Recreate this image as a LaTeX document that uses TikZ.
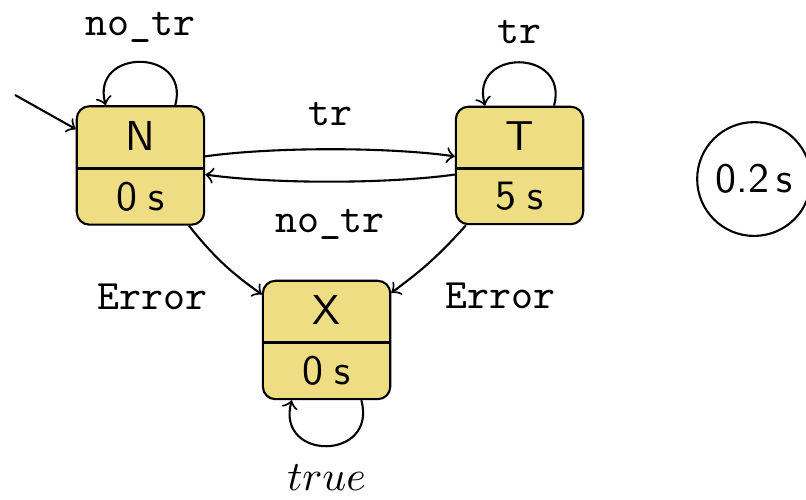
\documentclass[tikz,border=0pt]{standalone}
\usetikzlibrary{shapes.multipart}

\definecolor{stategold}{RGB}{238,221,130}
\newcommand{\upstrut}{\rule[-1pt]{0pt}{8.3pt}}

\tikzset{
  state/.style={rectangle split, rectangle split parts=2, draw, line width=0.5pt,
    rounded corners=3pt, fill=stategold, minimum width=1.07cm, inner ysep=3pt,
    font=\sffamily},
  trans/.style={->, line width=0.5pt},
  lbl/.style={font=\ttfamily},
  clock/.style={circle, draw, line width=0.5pt, minimum size=27.2pt, inner sep=0pt,
    font=\sffamily}
}

\begin{document}
\begin{tikzpicture}
   \useasboundingbox (0,0) rectangle (6.77,4.2);

   \node[state] (N) at (1.18,2.81) {\upstrut N\nodepart{two}0\;s};
   \node[state] (T) at (4.364,2.81) {\upstrut T\nodepart{two}5\;s};
   \node[state] (X) at (2.743,1.344) {\upstrut X\nodepart{two}0\;s};
   \draw[line width=0.8pt] (N.text split west) -- (N.text split east);
   \draw[line width=0.8pt] (T.text split west) -- (T.text split east);
   \draw[line width=0.8pt] (X.text split west) -- (X.text split east);

   \node[clock] (clk) at (6.334,2.696) {0.2\,s};

   \coordinate (init) at (0.126,3.402);
   \draw[trans] (init) -- (N);

   \draw[trans] (N.60) .. controls +(75:0.5) and +(105:0.5) .. (N.120)
      node[midway, above=1pt, lbl] {no\_tr};
   \draw[trans] (T.60) .. controls +(75:0.5) and +(105:0.5) .. (T.120)
      node[midway, above=1pt, lbl] {tr};
   \draw[trans] (X.-60) .. controls +(-75:0.53) and +(-105:0.53) .. (X.-120)
      node[midway, below=1pt] {$true$};

   \draw[trans] (N) to[bend left=8, looseness=0.7] node[above=2pt, lbl] {tr} (T);
   \draw[trans] (T) to[bend left=8, looseness=0.7] node[below=3pt, lbl] {no\_tr} (N);
   \draw[trans] (N) to[bend right=8] node[below left, yshift=-1.5pt, lbl] {Error} (X);
   \draw[trans] (T) to[bend left=6] node[below right, yshift=-1.5pt, lbl] {Error} (X);
\end{tikzpicture}
\end{document}
